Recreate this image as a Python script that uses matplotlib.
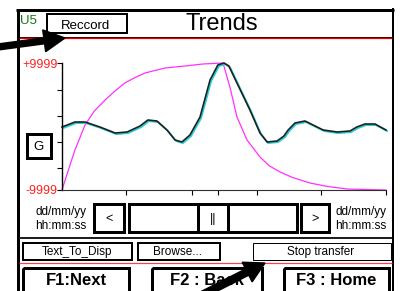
import matplotlib

matplotlib.use("Agg")
import matplotlib.pyplot as plt
import matplotlib.transforms as mtransforms
from matplotlib.patches import FancyArrow, Rectangle

plt.rcParams["font.family"] = ["Liberation Sans", "DejaVu Sans"]

# trend data: time in % of window, value in -9999..9999
setpoint_t = [0, 2.0, 4.0, 7.1, 10.0, 13.3, 16.5, 19.4, 22.5, 25.6, 31.8, 38.0, 43.5, 49.7,
              51.9, 54.0, 57.1, 61.1, 64.0, 67.3, 71.0, 76.5, 82.0, 88.0, 100]
setpoint_v = [-9999, -6800, -3700, 236, 2450, 4173, 5650, 6850, 7700, 8424, 9212, 9527, 9842, 9999,
              6063, 1496, -2125, -4802, -6200, -7164, -8000, -8896, -9450, -9841, -9999]

measure_t = [0, 4.0, 7.1, 11.7, 16.4, 20.1, 24.1, 26.5, 29.3, 32.4, 34.9, 37.0,
             39.5, 42.6, 45.7, 48.1, 50.0, 51.5, 54.0, 58.0, 61.1, 63.3, 66.4,
             68.5, 69.8, 71.9, 75.0, 78.1, 80.6, 84.9, 88.9, 91.0, 93.5, 96.6, 100]
measure_v = [-78, 709, 709, -78, -1023, -866, 79, 1024, 866, -551, -2125, -2440,
             -1338, 1496, 7322, 9684, 9999, 9527, 6850, 2598, -1023, -2440, -2282,
             -1496, -551, 551, 866, 79, -551, -866, -709, -78, 394, 394, -551]

y_ticks = [-6535, -2441, 1653, 5747]
x_ticks = [19.8, 40.1, 48.1, 60.2, 80.0, 100]

fig = plt.figure(figsize=(4, 2.91), dpi=100)

# screen overlay in pixel units
ui = fig.add_axes([0, 0, 1, 1], zorder=0)
ui.set_xlim(0, 400)
ui.set_ylim(291, 0)
ui.axis("off")


def box(x0, y0, x1, y1, lw=2, color="black"):
    ui.add_patch(Rectangle((x0, y0), x1 - x0, y1 - y0, fill=False,
                           edgecolor=color, linewidth=lw * 0.72))


def hline(y, x0, x1, lw, color):
    ui.plot([x0, x1], [y, y], color=color, linewidth=lw * 0.72,
            solid_capstyle="butt")


def label(x, y, s, size, ha="center", **kw):
    ui.text(x, y, s, fontsize=size, ha=ha, va="baseline", **kw)


# outer frame
ui.plot([17.5, 17.5], [291, 9.5], color="black", linewidth=3 * 0.72, solid_capstyle="butt")
ui.plot([16, 394], [9.5, 9.5], color="black", linewidth=3 * 0.72, solid_capstyle="butt")
ui.plot([393, 393], [8, 291], color="black", linewidth=2 * 0.72, solid_capstyle="butt")

# header
label(20, 24, "U5", 9.5, ha="left", color="#107a10")
box(47, 14, 127, 33, lw=2)
label(86, 29, "Reccord", 9.5)
label(222, 30, "Trends", 17)
hline(37, 19, 392, 1, "#500000")
hline(38, 19, 392, 1.2, "#e00000")

# y labels and G button
label(58, 67.5, "+9999", 9, ha="right", color="#ff2020")
label(58, 194, "-9999", 9, ha="right", color="#ff2020")
box(26.5, 133.5, 50.5, 157.5, lw=3)
label(38.5, 150, "G", 9.5)

# navigation row
label(35, 215, "dd/mm/yy", 8.5, ha="left")
label(35, 229, "hh:mm:ss", 8.5, ha="left")
box(93.5, 204, 123.5, 231.5, lw=3)
label(108.5, 222, "<", 9)
box(128.5, 204, 297, 231.5, lw=3)
box(198, 204, 228, 231.5, lw=3)
label(213, 222, "||", 9)
box(301, 204, 328.5, 231.5, lw=3)
label(315, 222, ">", 9)
label(335, 215, "dd/mm/yy", 8.5, ha="left")
label(335, 229, "hh:mm:ss", 8.5, ha="left")
hline(237.5, 19, 392, 2, "#202020")

# function buttons
box(22.5, 243, 131.5, 259.5, lw=2)
label(77, 255, "Text_To_Disp", 8.5)
box(138, 243, 219.5, 259.5, lw=2)
label(178, 255, "Browse...", 8.5)
box(252.5, 243, 391, 259.5, lw=1)
label(321, 255, "Stop transfer", 8.5)
hline(263, 19, 392, 1.2, "#ff4040")

box(22.5, 268, 129, 293, lw=3)
label(76, 285, "F1:Next", 12, fontweight="bold")
box(152, 268, 262, 293, lw=3)
label(207, 285, "F2 : Back", 12, fontweight="bold")
box(283.5, 268, 389, 293, lw=3)
label(336, 285, "F3 : Home", 12, fontweight="bold")

# trend plot
ax = fig.add_axes([62 / 400, 1 - 190 / 291, 324 / 400, 127 / 291], zorder=1)
ax.patch.set_alpha(0)
ax.set_xlim(0, 100)
ax.set_ylim(-9999, 9999)
for side in ("top", "right"):
    ax.spines[side].set_visible(False)
ax.spines["left"].set_linewidth(1.0)
ax.spines["bottom"].set_linewidth(0.8)
ax.spines["bottom"].set_color("#303030")
ax.set_yticks([-9999] + y_ticks + [9999])
ax.set_xticks(x_ticks)
ax.tick_params(axis="both", direction="out", length=3.5, width=0.8,
               labelleft=False, labelbottom=False)

ax.plot(setpoint_t, setpoint_v, color="#ff30ff", linewidth=0.9, clip_on=False)
shadow = mtransforms.offset_copy(ax.transData, fig=fig, x=0.8, y=-0.8, units="points")
ax.plot(measure_t, measure_v, color="#20d0d8", linewidth=1.3, transform=shadow, clip_on=False)
ax.plot(measure_t, measure_v, color="#202020", linewidth=1.2, clip_on=False)

# pointer arrows
arrow_top = fig.add_axes([0, 0, 1, 1], zorder=2)
arrow_top.set_xlim(0, 400)
arrow_top.set_ylim(291, 0)
arrow_top.axis("off")
arrow_top.add_patch(FancyArrow(-2, 47, 67, -9, width=6, head_width=22, head_length=21,
                               length_includes_head=True, color="black"))
arrow_top.add_patch(FancyArrow(200, 296, 65, -33, width=7, head_width=22, head_length=20,
                               length_includes_head=True, color="black"))

fig.savefig("out.png", dpi=100)
